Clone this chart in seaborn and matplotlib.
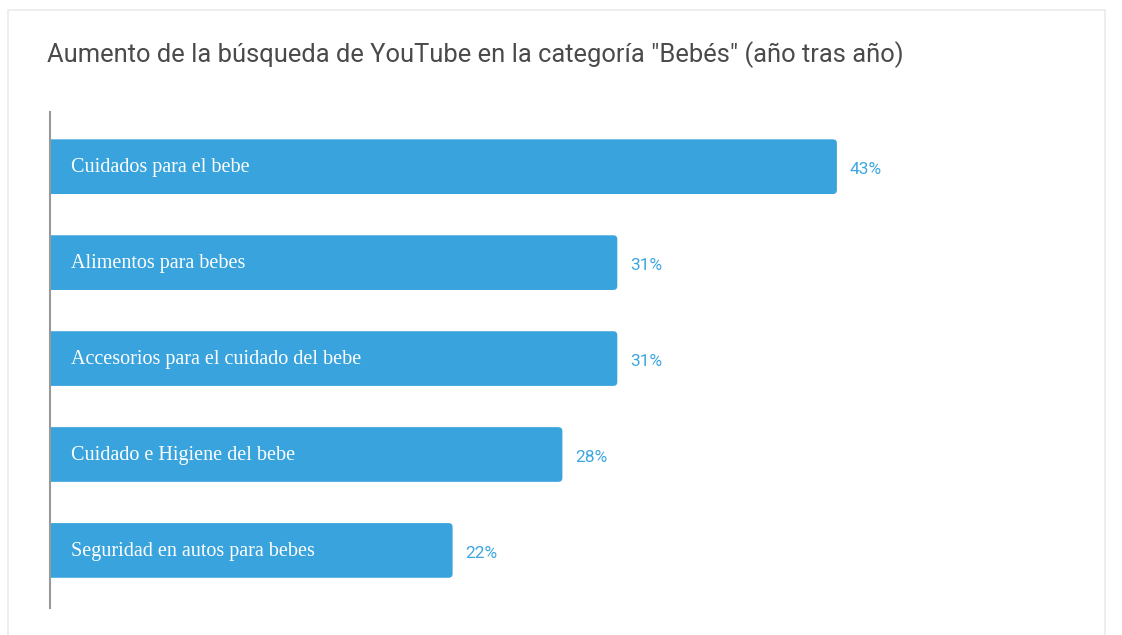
import matplotlib
matplotlib.use("Agg")
import matplotlib.pyplot as plt
import seaborn as sns
import pandas as pd
from matplotlib.patches import Rectangle, FancyBboxPatch

categories = [
    "Cuidados para el bebe",
    "Alimentos para bebes",
    "Accesorios para el cuidado del bebe",
    "Cuidado e Higiene del bebe",
    "Seguridad en autos para bebes",
]
values = [43, 31, 31, 28, 22]
title = 'Aumento de la búsqueda de YouTube en la categoría "Bebés" (año tras año)'

bar_color = "#38a3dd"
label_color = "#3ea6e0"

df = pd.DataFrame({"categoria": categories, "valor": values})

sns.set_theme(style="white")
plt.rcParams["font.family"] = ["Roboto", "DejaVu Sans"]

W, H = 1122, 635
PX_PER_UNIT = 18.3
fig = plt.figure(figsize=(W / 100, H / 100), dpi=100)
fig.patch.set_facecolor("white")

# card outline
fig.patches.append(Rectangle((8 / W, -0.02), (1105 - 8) / W, 1 - 10 / H + 0.02,
                             transform=fig.transFigure, fill=False,
                             edgecolor="#ebebeb", linewidth=1.2))

ax = fig.add_axes([50 / W, 1 - 608 / H, (1100 - 50) / W, (608 - 112) / H])
sns.barplot(data=df, y="categoria", x="valor", orient="h", color=bar_color,
            saturation=1, width=0.57, ax=ax)
ax.set_xlim(0, 1050 / PX_PER_UNIT)
ax.set_ylim(4.6, -0.57)

# rounded right ends: the rounded box starts left of the axis and is clipped there,
# so only the right-hand corners show
y_per_px = (4.6 + 0.57) / (608 - 112)
x_per_px = 1 / PX_PER_UNIT
shift = 6 * x_per_px
for p in list(ax.patches):
    x, y, w, h = p.get_x(), p.get_y(), p.get_width(), p.get_height()
    fc = p.get_facecolor()
    p.remove()
    ax.add_patch(FancyBboxPatch((x - shift, y), w + shift, h,
                                boxstyle=f"round,pad=0,rounding_size={4 * x_per_px}",
                                mutation_aspect=y_per_px / x_per_px,
                                facecolor=fc, edgecolor="none", zorder=2))

ax.set_xlabel("")
ax.set_ylabel("")
ax.set_xticks([])
ax.set_yticks([])
for s in ["top", "right", "bottom"]:
    ax.spines[s].set_visible(False)
ax.spines["left"].set_color("#999999")
ax.spines["left"].set_linewidth(1.5)
ax.spines["left"].set_zorder(3)

for i, (cat, v) in enumerate(zip(categories, values)):
    ax.text(1.15, i + 0.01, cat, color="white", va="center", ha="left",
            fontsize=14.5, family=["Liberation Serif", "DejaVu Serif"], zorder=4)
    ax.text(v + 0.7, i + 0.03, f"{v}%", color=label_color, va="center", ha="left",
            fontsize=12.5, zorder=4)

fig.text(47 / W, 1 - 55 / H, title, fontsize=18.4, color="#4a4a4a",
         va="center", ha="left")

fig.savefig("out.png", dpi=100)
